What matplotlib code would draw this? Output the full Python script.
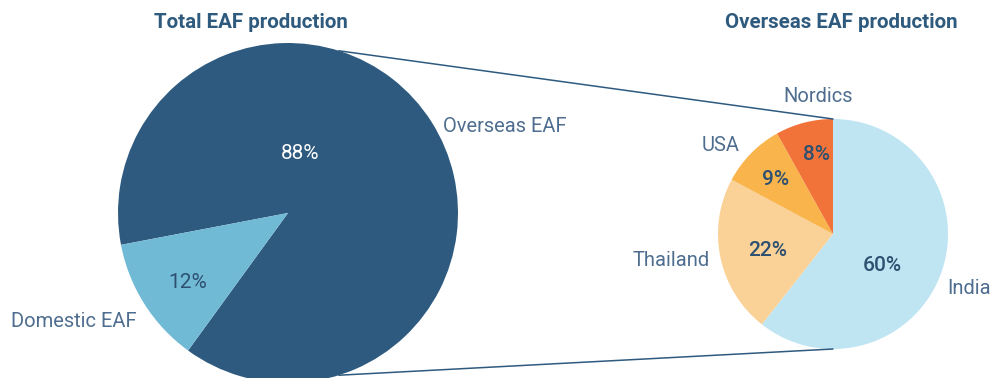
import numpy as np
import matplotlib
matplotlib.use('Agg')
import matplotlib.pyplot as plt
from matplotlib.patches import ConnectionPatch

plt.rcParams['font.family'] = ['Roboto', 'DejaVu Sans']

# data
total_labels = ['Overseas EAF', 'Domestic EAF']
total_values = [88, 12]
total_colors = ['#2E5A7F', '#71BAD6']

overseas_labels = ['India', 'Thailand', 'USA', 'Nordics']
overseas_values = [60, 22, 9, 8]
overseas_colors = ['#BFE5F3', '#FAD196', '#F9B44C', '#F1733A']

label_color = '#4F6E8F'
pct_color = '#2E5070'
title_color = '#2E5A7E'

W, H = 992, 378
fig = plt.figure(figsize=(W / 100, H / 100), dpi=100)

# left pie: centre (288, 213) px, radius 170 px
ax1 = fig.add_axes([118 / W, (H - 383) / H, 340 / W, 340 / H])
# right pie: centre (833, 234) px, radius 115 px
ax2 = fig.add_axes([718 / W, (H - 349) / H, 230 / W, 230 / H])

w1, t1, p1 = ax1.pie(total_values, labels=total_labels, colors=total_colors,
                     startangle=234, counterclock=True, radius=1,
                     autopct='%d%%', wedgeprops=dict(linewidth=0))
w2, t2, p2 = ax2.pie(overseas_values, labels=overseas_labels, colors=overseas_colors,
                     startangle=90, counterclock=False, radius=1,
                     autopct=lambda v: '%d%%' % round(v * sum(overseas_values) / 100),
                     wedgeprops=dict(linewidth=0))

for ax in (ax1, ax2):
    ax.set_xlim(-1, 1)
    ax.set_ylim(-1, 1)
    ax.set_aspect('equal')
    ax.axis('off')

# label placement (Excel-like)
lab1 = [((0.91, 0.51), 'left'), ((-0.89, -0.64), 'right')]
pct1 = [(0.07, 0.35), (-0.59, -0.41)]
for t, (pos, ha) in zip(t1, lab1):
    t.set_position(pos); t.set_ha(ha); t.set_va('center')
    t.set_color(label_color); t.set_fontsize(14.5)
for p, pos, c in zip(p1, pct1, ['white', pct_color]):
    p.set_position(pos); p.set_ha('center'); p.set_va('center')
    p.set_color(c); p.set_fontsize(15)

lab2 = [((0.99, -0.47), 'left'), ((-1.07, -0.23), 'right'),
        ((-0.81, 0.77), 'right'), ((-0.13, 1.20), 'center')]
pct2 = [(0.43, -0.27), (-0.57, -0.14), (-0.50, 0.47), (-0.14, 0.69)]
for t, (pos, ha) in zip(t2, lab2):
    t.set_position(pos); t.set_ha(ha); t.set_va('center')
    t.set_color(label_color); t.set_fontsize(14.5)
for p, pos in zip(p2, pct2):
    p.set_position(pos); p.set_ha('center'); p.set_va('center')
    p.set_color(pct_color); p.set_fontsize(15); p.set_fontweight('medium')

# connector lines
ang = np.deg2rad(72.6)
for sgn in (1, -1):
    con = ConnectionPatch(xyA=(np.cos(ang), sgn * np.sin(ang)), coordsA=ax1.transData,
                          xyB=(0, sgn * 1.0), coordsB=ax2.transData,
                          color='#2E5A7F', linewidth=1.1)
    fig.add_artist(con)

fig.text(251 / W, 1 - 23 / H, 'Total EAF production', ha='center', va='center',
         fontsize=14.8, fontweight='bold', color=title_color)
fig.text(841 / W, 1 - 23 / H, 'Overseas EAF production', ha='center', va='center',
         fontsize=14.8, fontweight='bold', color=title_color)

fig.savefig('out.png', dpi=100)
